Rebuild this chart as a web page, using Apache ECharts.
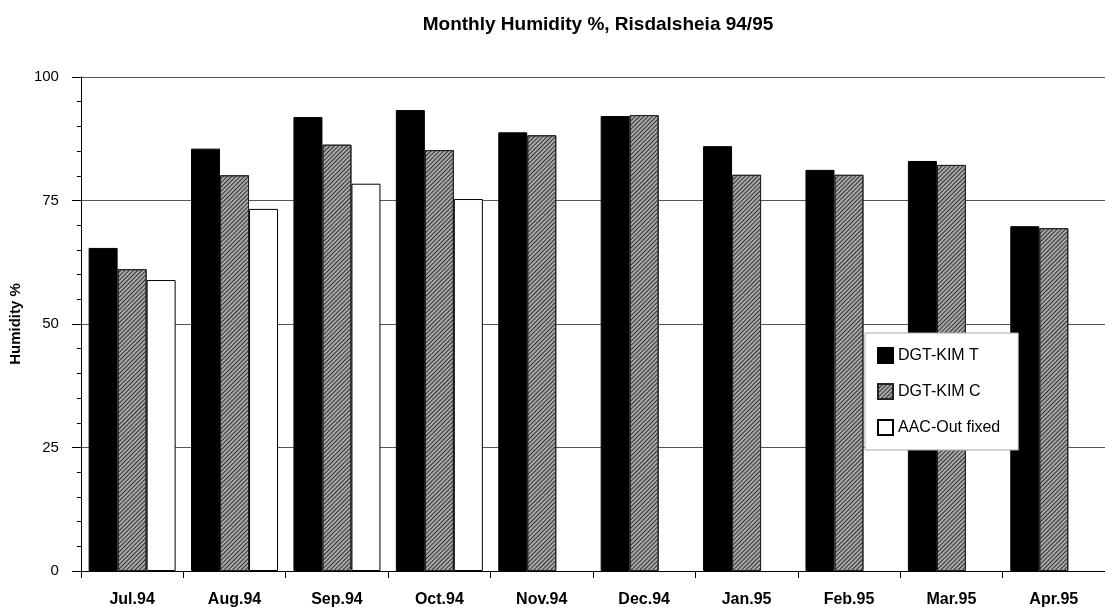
<!DOCTYPE html>
<html>
<head>
<meta charset="utf-8">
<title>Monthly Humidity</title>
<script src="https://cdn.jsdelivr.net/npm/echarts@6/dist/echarts.min.js"></script>
<style>
	html, body { margin: 0; padding: 0; background: #fff; }
	#main { width: 1105px; height: 610px; }
</style>
</head>
<body>
<div id="main"></div>
<script>
var months = ['Jul.94', 'Aug.94', 'Sep.94', 'Oct.94', 'Nov.94', 'Dec.94', 'Jan.95', 'Feb.95', 'Mar.95', 'Apr.95'];
var kimT = [65.4, 85.5, 91.9, 93.3, 88.8, 92.1, 86.0, 81.2, 83.0, 69.8]; // DGT-KIM T
var kimC = [61.1, 80.1, 86.3, 85.2, 88.2, 92.3, 80.2, 80.2, 82.2, 69.4]; // DGT-KIM C
var aacOut = [58.9, 73.3, 78.4, 75.3, null, null, null, null, null, null]; // AAC-Out fixed, only first months
var yTicks = [0, 25, 50, 75, 100];

var fontName = 'Arial, "Liberation Sans", sans-serif';

var myChart = echarts.init(document.getElementById('main'), null, { renderer: 'canvas' });

var option = {
	backgroundColor: '#fff',
	animation: false,
	title: {
		text: 'Monthly Humidity %, Risdalsheia 94/95',
		left: 593,
		top: 10,
		textAlign: 'center',
		textStyle: {
			color: '#000',
			fontFamily: fontName,
			fontWeight: 'bold',
			fontSize: 19
		}
	},
	legend: {
		orient: 'vertical',
		left: 865,
		top: 333,
		padding: [14, 18, 14, 12],
		itemWidth: 15,
		itemHeight: 15,
		itemGap: 19,
		icon: 'rect',
		backgroundColor: '#fff',
		borderColor: '#aaa',
		borderWidth: 1,
		textStyle: {
			color: '#000',
			fontFamily: fontName,
			fontSize: 16,
			lineHeight: 16
		},
		data: ['DGT-KIM T', 'DGT-KIM C', 'AAC-Out fixed']
	},
	grid: {
		left: 80,
		top: 77,
		width: 1030,
		height: 494
	},
	xAxis: {
		type: 'category',
		data: months,
		axisLine: { lineStyle: { color: '#000', width: 1 } },
		axisTick: { show: true, length: 7, lineStyle: { color: '#000' } },
		axisLabel: {
			margin: 21,
			color: '#000',
			fontFamily: fontName,
			fontWeight: 'bold',
			fontSize: 16
		},
		splitLine: { show: false }
	},
	yAxis: {
		type: 'value',
		min: yTicks[0],
		max: yTicks[yTicks.length - 1],
		interval: 25,
		name: 'Humidity %',
		nameLocation: 'middle',
		nameGap: 53,
		nameTextStyle: {
			color: '#000',
			fontFamily: fontName,
			fontWeight: 'bold',
			fontSize: 15
		},
		axisLine: { show: true, lineStyle: { color: '#000', width: 1 } },
		axisTick: { show: true, length: 9, lineStyle: { color: '#000' } },
		minorTick: { show: true, splitNumber: 5, length: 4, lineStyle: { color: '#000' } },
		axisLabel: {
			margin: 22,
			color: '#000',
			fontFamily: fontName,
			fontSize: 15
		},
		splitLine: { show: true, lineStyle: { color: '#555', width: 1 } }
	},
	series: [{
			name: 'DGT-KIM T',
			type: 'bar',
			barWidth: 29,
			barGap: '0%',
			itemStyle: { color: '#000', borderColor: '#000', borderWidth: 1 },
			data: kimT
		},
		{
			name: 'DGT-KIM C',
			type: 'bar',
			barWidth: 29,
			barGap: '0%',
			itemStyle: {
				color: '#a8a8a8',
				borderColor: '#222',
				borderWidth: 1,
				decal: { // diagonal hatching like the print
					symbol: 'rect',
					symbolSize: 1,
					dashArrayX: [1, 0],
					dashArrayY: [1, 2],
					rotation: -Math.PI / 4,
					color: '#333'
				}
			},
			data: kimC
		},
		{
			name: 'AAC-Out fixed',
			type: 'bar',
			barWidth: 29,
			barGap: '0%',
			itemStyle: { color: '#fff', borderColor: '#000', borderWidth: 1 },
			data: aacOut
		}
	]
};

myChart.setOption(option);
</script>
</body>
</html>
